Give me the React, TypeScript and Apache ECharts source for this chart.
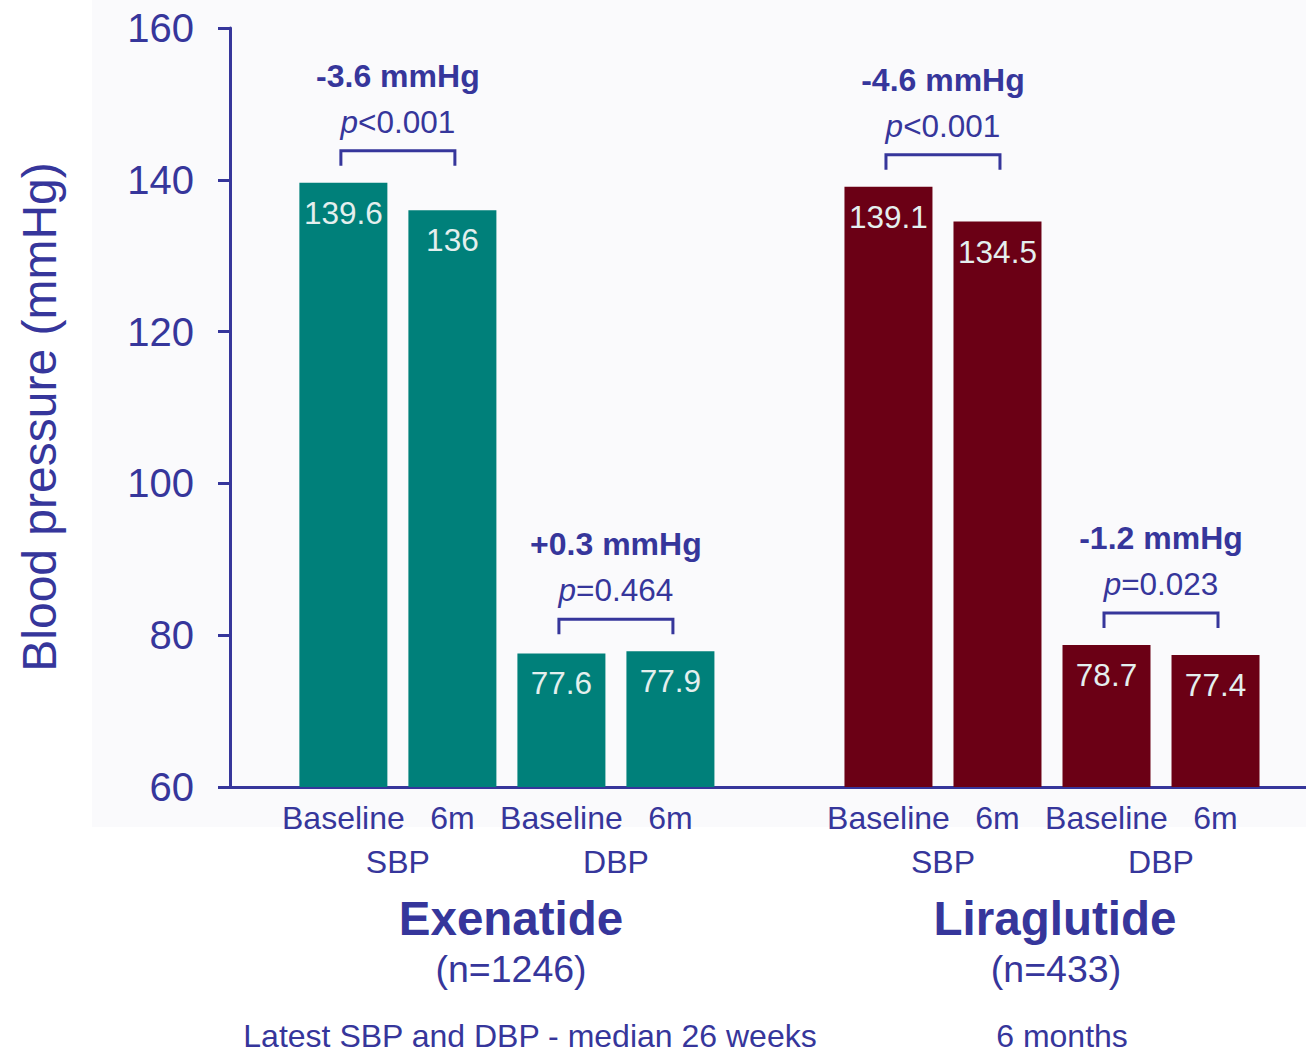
import React, { useEffect, useRef } from "react";
import * as echarts from "echarts";

// Bar slots on the horizontal scale (Exenatide left, Liraglutide right, gap at 5)
const exenatideSlots = [1, 2, 3, 4];
const liraglutideSlots = [6, 7, 8, 9];

// Blood pressure values (mmHg): SBP baseline, SBP 6m, DBP baseline, DBP 6m
const exenatideValues = [139.6, 136, 77.6, 77.9];
const liraglutideValues = [139.1, 134.5, 78.7, 77.4];

// Bottom tick labels
const timeLabels = ["Baseline", "6m", "Baseline", "6m"];
const measureLabels = ["SBP", "DBP"];
const measureSlots = [1.5, 3.5, 6.5, 8.5];

// Changes between baseline and 6 months, with significance
const changeLabels = ["-3.6 mmHg", "+0.3 mmHg", "-4.6 mmHg", "-1.2 mmHg"];
const pLabels = ["<0.001", "=0.464", "<0.001", "=0.023"];

const yTicks = [60, 80, 100, 120, 140, 160];

const NAVY = "#36369b";
const TEAL = "#00807a";
const MAROON = "#6b0015";
const FONT = "'Liberation Sans', Arial, Helvetica, sans-serif";

export default function App() {
  const ref = useRef<HTMLDivElement>(null);

  useEffect(() => {
    if (!ref.current) return;
    const chart = echarts.init(ref.current, null, { renderer: "svg" });

    const barData = [
      ...exenatideSlots.map((s, i) => ({
        value: [s, exenatideValues[i]],
        itemStyle: { color: TEAL },
      })),
      ...liraglutideSlots.map((s, i) => ({
        value: [s, liraglutideValues[i]],
        itemStyle: { color: MAROON },
      })),
    ];

    // One bracket per baseline/6m pair: [slotA, slotB, taller value, index]
    const pairs: number[][] = [];
    [
      [exenatideSlots, exenatideValues],
      [liraglutideSlots, liraglutideValues],
    ].forEach(([slots, vals]) => {
      for (let k = 0; k < 4; k += 2) {
        pairs.push([slots[k], slots[k + 1], Math.max(vals[k], vals[k + 1]), pairs.length]);
      }
    });

    const allSlots = [...exenatideSlots, ...liraglutideSlots];
    const slotLabel = (v: number) => {
      const i = allSlots.findIndex((s) => Math.abs(s - v) < 1e-6);
      return i < 0 ? "" : timeLabels[i % 4];
    };
    const measureLabel = (v: number) => {
      const i = measureSlots.findIndex((m) => Math.abs(m - v) < 1e-6);
      return i < 0 ? "" : measureLabels[i % 2];
    };

    const xMin = -0.04;
    const xMax = 9.83;

    chart.setOption({
      animation: false,
      backgroundColor: "#ffffff",
      textStyle: { fontFamily: FONT },
      grid: { left: 230, right: 0, top: 28, bottom: 266, containLabel: false },
      xAxis: [
        {
          type: "value",
          min: xMin,
          max: xMax,
          splitLine: { show: false },
          axisTick: { show: false },
          axisLine: { show: true, onZero: false, lineStyle: { color: NAVY, width: 3 } },
          axisLabel: {
            customValues: allSlots,
            color: NAVY,
            fontSize: 32,
            fontFamily: FONT,
            margin: 15,
            formatter: (v: number) => slotLabel(v),
          },
        },
        {
          type: "value",
          position: "bottom",
          offset: 44,
          min: xMin,
          max: xMax,
          splitLine: { show: false },
          axisTick: { show: false },
          axisLine: { show: false, onZero: false },
          axisLabel: {
            customValues: measureSlots,
            color: NAVY,
            fontSize: 32,
            fontFamily: FONT,
            margin: 15,
            formatter: (v: number) => measureLabel(v),
          },
        },
      ],
      yAxis: {
        type: "value",
        position: "left",
        min: yTicks[0],
        max: yTicks[yTicks.length - 1],
        interval: 20,
        splitLine: { show: false },
        axisLine: { show: true, onZero: false, lineStyle: { color: NAVY, width: 3 } },
        axisTick: { show: true, length: 12, lineStyle: { color: NAVY, width: 3 } },
        axisLabel: { color: NAVY, fontSize: 40, fontFamily: FONT, margin: 36 },
      },
      graphic: [
        {
          type: "rect",
          z: -100,
          silent: true,
          shape: { x: 92, y: 0, width: 1214, height: 827 },
          style: { fill: "#fafafc" },
        },
        {
          type: "text",
          x: 39,
          y: 417,
          rotation: Math.PI / 2,
          style: { text: "Blood pressure (mmHg)", fill: NAVY, fontSize: 48, fontFamily: FONT, align: "center", verticalAlign: "middle" },
        },
        {
          type: "text",
          x: 511,
          y: 918,
          style: { text: "Exenatide", fill: NAVY, fontSize: 47.5, fontWeight: "bold", fontFamily: FONT, align: "center", verticalAlign: "middle" },
        },
        {
          type: "text",
          x: 511,
          y: 969,
          style: { text: "(n=1246)", fill: NAVY, fontSize: 37.5, fontFamily: FONT, align: "center", verticalAlign: "middle" },
        },
        {
          type: "text",
          x: 530,
          y: 1036,
          style: { text: "Latest SBP and DBP - median 26 weeks", fill: NAVY, fontSize: 32, lineHeight: 32, fontFamily: FONT, align: "center", verticalAlign: "middle" },
        },
        {
          type: "text",
          x: 1055,
          y: 918,
          style: { text: "Liraglutide", fill: NAVY, fontSize: 47.5, fontWeight: "bold", fontFamily: FONT, align: "center", verticalAlign: "middle" },
        },
        {
          type: "text",
          x: 1056,
          y: 969,
          style: { text: "(n=433)", fill: NAVY, fontSize: 37.5, fontFamily: FONT, align: "center", verticalAlign: "middle" },
        },
        {
          type: "text",
          x: 1062,
          y: 1036,
          style: { text: "6 months", fill: NAVY, fontSize: 32, lineHeight: 32, fontFamily: FONT, align: "center", verticalAlign: "middle" },
        },
      ],
      series: [
        {
          type: "bar",
          xAxisIndex: 0,
          barWidth: 88,
          data: barData,
          label: {
            show: true,
            position: "insideTop",
            distance: 14,
            color: "#e4efee",
            fontSize: 31.5,
            fontFamily: FONT,
            formatter: (p: any) => String(p.value[1]),
          },
        },
        {
          type: "custom",
          xAxisIndex: 0,
          clip: false,
          encode: { x: [0, 1], y: 2 },
          data: pairs,
          renderItem: (params: any, api: any) => {
            const a = api.coord([api.value(0), api.value(2)]);
            const b = api.coord([api.value(1), api.value(2)]);
            const idx = api.value(3);
            const mid = (a[0] + b[0]) / 2;
            const top = a[1] - 32;
            const half = 57;
            return {
              type: "group",
              children: [
                {
                  type: "polyline",
                  shape: {
                    points: [
                      [mid - half, top + 15],
                      [mid - half, top],
                      [mid + half, top],
                      [mid + half, top + 15],
                    ],
                  },
                  style: { stroke: NAVY, lineWidth: 3, fill: "none" },
                },
                {
                  type: "text",
                  x: mid,
                  y: top - 29,
                  style: {
                    text: "{it|p}" + pLabels[idx],
                    fill: NAVY,
                    fontSize: 31.5,
                    fontFamily: FONT,
                    align: "center",
                    verticalAlign: "middle",
                    rich: { it: { fontStyle: "italic", fontSize: 31.5, fontFamily: FONT, fill: NAVY } },
                  },
                },
                {
                  type: "text",
                  x: mid,
                  y: top - 75,
                  style: {
                    text: changeLabels[idx],
                    fill: NAVY,
                    fontSize: 32,
                    fontWeight: "bold",
                    fontFamily: FONT,
                    align: "center",
                    verticalAlign: "middle",
                  },
                },
              ],
            };
          },
        },
      ],
    });

    return () => chart.dispose();
  }, []);

  return (
    <div
      ref={ref}
      style={{ position: "absolute", left: 0, top: 0, width: 1306, height: 1053 }}
    />
  );
}
